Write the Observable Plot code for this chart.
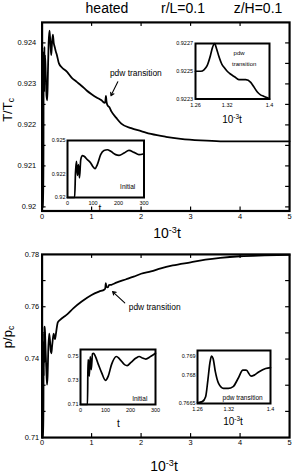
<!DOCTYPE html>
<html><head><meta charset="utf-8">
<script src="https://cdn.jsdelivr.net/npm/d3@7"></script>
<script src="https://cdn.jsdelivr.net/npm/@observablehq/plot@0.6"></script>
<style>
body{margin:0;background:#fff;}
#chart{position:relative;width:295px;height:475px;overflow:hidden;font-family:"Liberation Sans",Arial,sans-serif;color:#000;}
#chart svg{position:absolute;overflow:visible;}
.lbl{position:absolute;white-space:nowrap;transform:translate(-50%,-50%);line-height:1;}
.lbl sup{font-size:65%;vertical-align:0.55em;line-height:0;}
.lbl sub{font-size:65%;vertical-align:-0.3em;line-height:0;}
.rot{transform:translate(-50%,-50%) rotate(-90deg);}
</style></head>
<body><div id="chart"></div>
<script>
// ---------- data ----------
// top main: T/Tc vs 10^-3 t
const topT = [0, 0.027, 0.031, 0.035, 0.039, 0.043, 0.047, 0.052, 0.06, 0.075, 0.09, 0.105, 0.118, 0.132, 0.15, 0.168, 0.185, 0.2, 0.218, 0.235, 0.255, 0.275, 0.3, 0.34, 0.4, 0.5, 0.6, 0.7, 0.8, 0.9, 1.0, 1.1, 1.2, 1.26, 1.275, 1.29, 1.3, 1.32, 1.36, 1.4, 1.5, 1.6, 1.8, 2.0, 2.2, 2.5, 2.8, 3.2, 3.6, 4.0, 4.5, 5.0];
const topV = [0.92, 0.92, 0.9238, 0.9229, 0.9236, 0.9228, 0.9239, 0.9233, 0.9237, 0.9232, 0.9227, 0.9226, 0.9233, 0.924, 0.9243, 0.924, 0.9237, 0.924, 0.9242, 0.924, 0.9239, 0.9238, 0.9237, 0.9235, 0.9234, 0.9233, 0.92315, 0.92305, 0.92295, 0.92284, 0.92275, 0.92267, 0.9226, 0.92254, 0.92255, 0.92271, 0.92258, 0.92248, 0.92243, 0.92233, 0.92217, 0.92203, 0.92192, 0.92185, 0.92178, 0.92171, 0.92166, 0.92162, 0.9216, 0.9216, 0.9216, 0.9216];
// top inset: pdw transition
const insATT = [1.26, 1.27, 1.276, 1.282, 1.288, 1.292, 1.296, 1.3, 1.304, 1.31, 1.3136, 1.32, 1.326, 1.334, 1.342, 1.35, 1.355, 1.3645, 1.37, 1.377, 1.383, 1.389, 1.395, 1.4];
const insATV = [0.9225, 0.9225, 0.92251, 0.92254, 0.92261, 0.92267, 0.9227, 0.92266, 0.92261, 0.92255, 0.92253, 0.9225, 0.92248, 0.92246, 0.92244, 0.92244, 0.92244, 0.92242, 0.92239, 0.92235, 0.92233, 0.92232, 0.92231, 0.9223];
// top inset: initial
const insBT = [0, 28, 31.3, 35.2, 39, 43, 47, 52, 58.7, 65.2, 78, 91, 100, 108, 117, 130, 143, 156.5, 169.6, 189, 202, 222, 241, 261, 280, 300];
const insBV = [0.92, 0.92, 0.92217, 0.92318, 0.92194, 0.92289, 0.92173, 0.92332, 0.92367, 0.92361, 0.92332, 0.92303, 0.9227, 0.92254, 0.92289, 0.92376, 0.92413, 0.92419, 0.92405, 0.92376, 0.9237, 0.9239, 0.92413, 0.92396, 0.92376, 0.92384];
// bottom main: p/pc vs 10^-3 t
const botT = [0, 0.027, 0.03, 0.033, 0.035, 0.039, 0.043, 0.048, 0.052, 0.059, 0.072, 0.085, 0.1, 0.111, 0.124, 0.143, 0.157, 0.176, 0.187, 0.202, 0.222, 0.235, 0.248, 0.261, 0.28, 0.3, 0.317, 0.37, 0.45, 0.5, 0.63, 0.8, 1.0, 1.15, 1.26, 1.275, 1.287, 1.3, 1.33, 1.35, 1.4, 1.5, 1.7, 1.85, 2.0, 2.2, 2.4, 2.64, 3.0, 3.3, 3.6, 4.0, 4.5, 5.0];
const botV = [0.71, 0.71, 0.747, 0.7457, 0.7335, 0.7497, 0.7389, 0.7519, 0.7524, 0.7503, 0.743, 0.7362, 0.7302, 0.7335, 0.743, 0.7497, 0.7476, 0.743, 0.7422, 0.7449, 0.7484, 0.7497, 0.7484, 0.7476, 0.7497, 0.7524, 0.754, 0.7551, 0.7563, 0.757, 0.7594, 0.762, 0.7645, 0.7658, 0.7666, 0.7669, 0.769, 0.7676, 0.7674, 0.7683, 0.7684, 0.7692, 0.7705, 0.7715, 0.7726, 0.7735, 0.7747, 0.7758, 0.777, 0.778, 0.7787, 0.7793, 0.7796, 0.7798];
// bottom inset: initial
const insCT = [0, 28, 30, 32.6, 35.2, 39, 43, 48, 52, 58.7, 71.7, 84.8, 100, 111, 124, 143.5, 156.5, 176, 186.5, 202, 222, 235, 248, 261, 280, 300];
const insCV = [0.71, 0.71, 0.747, 0.7457, 0.7335, 0.7497, 0.7389, 0.7519, 0.7524, 0.7503, 0.743, 0.7362, 0.73, 0.7335, 0.743, 0.7497, 0.7476, 0.743, 0.7422, 0.7449, 0.7484, 0.7497, 0.7484, 0.7476, 0.7497, 0.7524];
// bottom inset: pdw transition
const insDT = [1.26, 1.2693, 1.2756, 1.2799, 1.2836, 1.2868, 1.2899, 1.2942, 1.3004, 1.3098, 1.3191, 1.3284, 1.3378, 1.3471, 1.3533, 1.3627, 1.3689, 1.3782, 1.3907, 1.4];
const insDV = [0.76654, 0.7666, 0.76686, 0.76774, 0.76861, 0.769, 0.76888, 0.76818, 0.76756, 0.7673, 0.7673, 0.76739, 0.76782, 0.76826, 0.76826, 0.76795, 0.768, 0.76818, 0.76835, 0.7684];
// ticks
const mainXTicks = [0, 1, 2, 3, 4, 5];
const topYTicks = [0.92, 0.9205, 0.921, 0.9215, 0.922, 0.9225, 0.923, 0.9235, 0.924];
const topYLabels = [0.92, 0.921, 0.922, 0.923, 0.924];
const botYTicks = [0.71, 0.72, 0.73, 0.74, 0.75, 0.76, 0.77, 0.78];
const botYLabels = [0.71, 0.74, 0.76, 0.78];
const pdwXLabels = [1.26, 1.32, 1.4];
const initXLabels = [0, 100, 200, 300];
const insAYLabels = [0.9223, 0.9225, 0.9227];
const insBYLabels = [0.92, 0.922, 0.925];
const insCYLabels = [0.71, 0.73, 0.75];
const insDYLabels = [0.7665, 0.768, 0.769];

const zip = (T, V) => T.map((t, i) => ({t, v: V[i]}));
const fmt = d => String(+d.toFixed(6));
const chart = document.getElementById("chart");

function panel(c) {
  const mL = 40, mR = 8, mT = 8, mB = 18;
  const W = c.x1 - c.x0, H = c.y1 - c.y0;
  const marks = [];
  if (c.inset) marks.push(Plot.frame({fill: "white", stroke: null}));
  marks.push(Plot.line(zip(c.T, c.V), {x: "t", y: "v", stroke: "#000", strokeWidth: c.lw, curve: "monotone-x"}));
  if (c.tl) {
    const xt = c.xTicks.filter(d => d !== c.xDomain[0] && d !== c.xDomain[1]);
    const yt = c.yTicks.filter(d => d !== c.yDomain[0] && d !== c.yDomain[1]);
    marks.push(Plot.tickY(yt, {insetRight: W - c.tl, strokeWidth: 1.2}));
    marks.push(Plot.tickY(yt, {insetLeft: W - c.tl, strokeWidth: 1.2}));
    marks.push(Plot.tickX(xt, {insetBottom: H - c.tl, strokeWidth: 1.2}));
    marks.push(Plot.tickX(xt, {insetTop: H - c.tl, strokeWidth: 1.2}));
  }
  marks.push(Plot.frame({stroke: "#000", strokeWidth: c.fw}));
  marks.push(Plot.axisX(c.xLabels, {anchor: "bottom", tickSize: 0, tickPadding: c.xpad, fontSize: c.fs, tickFormat: fmt, label: null}));
  marks.push(Plot.axisY(c.yLabels, {anchor: "left", tickSize: 0, tickPadding: c.ypad, fontSize: c.fs, tickFormat: fmt, label: null}));
  for (const n of (c.notes || [])) marks.push(Plot.text([n], {x: "t", y: "v", text: "s", fontSize: n.fs, textAnchor: n.anchor || "middle", lineHeight: 1.05}));
  for (const a of (c.arrows || [])) marks.push(Plot.arrow([a], {x1: "t1", y1: "v1", x2: "t2", y2: "v2", stroke: "#000", strokeWidth: 1.1, headLength: 5}));
  const svg = Plot.plot({
    width: W + mL + mR, height: H + mT + mB,
    marginLeft: mL, marginRight: mR, marginTop: mT, marginBottom: mB,
    x: {domain: c.xDomain}, y: {domain: c.yDomain},
    style: {background: "transparent", fontFamily: "'Liberation Sans', Arial, sans-serif", overflow: "visible", color: "#000"},
    marks
  });
  svg.style.left = (c.x0 - mL) + "px";
  svg.style.top = (c.y0 - mT) + "px";
  chart.appendChild(svg);
}

function label(html, x, y, fs, cls) {
  const d = document.createElement("div");
  d.className = "lbl" + (cls ? " " + cls : "");
  d.style.left = x + "px"; d.style.top = y + "px"; d.style.fontSize = fs + "px";
  d.innerHTML = html;
  chart.appendChild(d);
}

// main top
panel({x0: 41.5, y0: 22, x1: 291.5, y1: 212.5, xDomain: [0, 5], yDomain: [0.9199, 0.9245],
  T: topT, V: topV, lw: 1.8, fw: 2.2, tl: 4, fs: 7.5, xpad: 3, ypad: 6,
  xTicks: mainXTicks, yTicks: topYTicks, xLabels: mainXTicks, yLabels: topYLabels,
  notes: [{t: 1.37, v: 0.92326, s: "pdw transition", fs: 8.5, anchor: "start"}],
  arrows: [{t1: 1.53, v1: 0.92305, t2: 1.39, v2: 0.92271}]});
// main bottom
panel({x0: 41.5, y0: 254, x1: 291.5, y1: 439, xDomain: [0, 5], yDomain: [0.71, 0.78],
  T: botT, V: botV, lw: 1.8, fw: 2.2, tl: 4, fs: 7.5, xpad: 2, ypad: 3,
  xTicks: mainXTicks, yTicks: botYTicks, xLabels: mainXTicks, yLabels: botYLabels,
  notes: [{t: 1.75, v: 0.76, s: "pdw transition", fs: 8.5, anchor: "start"}],
  arrows: [{t1: 1.67, v1: 0.7615, t2: 1.424, v2: 0.7658}]});
// inset A
panel({inset: true, x0: 195, y0: 43, x1: 269, y1: 98.5, xDomain: [1.26, 1.4], yDomain: [0.9223, 0.9227],
  T: insATT, V: insATV, lw: 1.7, fw: 2, fs: 5.5, xpad: 4, ypad: 2.5,
  xLabels: pdwXLabels, yLabels: insAYLabels,
  notes: [{t: 1.332, v: 0.92263, s: "pdw", fs: 6, anchor: "start"}, {t: 1.329, v: 0.92255, s: "transition", fs: 6, anchor: "start"}]});
// inset B
panel({inset: true, x0: 67, y0: 140, x1: 143.5, y1: 197, xDomain: [0, 300], yDomain: [0.92, 0.925],
  T: insBT, V: insBV, lw: 1.7, fw: 2, fs: 5.5, xpad: 4, ypad: 2,
  xLabels: initXLabels, yLabels: insBYLabels,
  notes: [{t: 236, v: 0.92097, s: "Initial", fs: 6.5}]});
// inset C
panel({inset: true, x0: 80, y0: 349, x1: 155, y1: 404, xDomain: [0, 300], yDomain: [0.71, 0.7555],
  T: insCT, V: insCV, lw: 1.7, fw: 2, fs: 5.5, xpad: 4, ypad: 2,
  xLabels: initXLabels, yLabels: insCYLabels,
  notes: [{t: 237, v: 0.715, s: "Initial", fs: 6.5}]});
// inset D
panel({inset: true, x0: 197, y0: 350, x1: 270, y1: 403, xDomain: [1.26, 1.4], yDomain: [0.7665, 0.7693],
  T: insDT, V: insDV, lw: 1.7, fw: 2, fs: 5.5, xpad: 4, ypad: 2,
  xLabels: pdwXLabels, yLabels: insDYLabels,
  notes: [{t: 1.3465, v: 0.76679, s: "pdw transition", fs: 6.5}]});

// titles and axis labels
label("heated", 107, 8, 14);
label("r/L=0.1", 183, 8, 14);
label("z/H=0.1", 258, 8, 14);
label("T/T<sub>c</sub>", 7, 110, 13, "rot");
label("p/p<sub>c</sub>", 7, 337, 13, "rot");
label("10<sup>-3</sup>t", 167, 233, 14);
label("10<sup>-3</sup>t", 164, 466, 14);
label("10<sup>-3</sup>t", 232, 120, 10);
label("10<sup>-3</sup>t", 233, 422, 10);
label("t", 100, 209, 10);
label("t", 118.5, 423.5, 10);
</script></body></html>
